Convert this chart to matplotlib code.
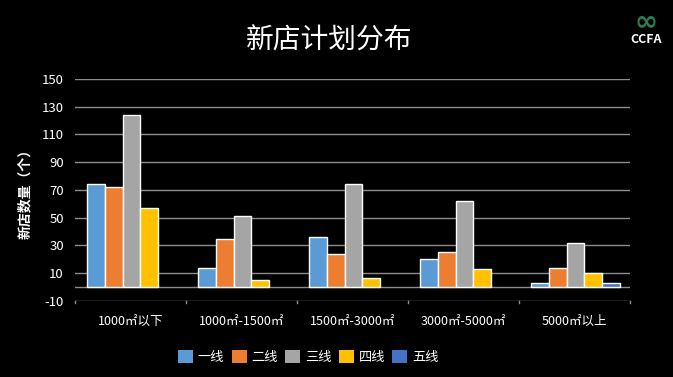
import numpy as np
import matplotlib
matplotlib.use('Agg')
from matplotlib import pyplot as plt

plt.rcParams['font.family'] = ['Noto Sans CJK SC', 'DejaVu Sans']

categories = ['1000㎡以下', '1000㎡-1500㎡', '1500㎡-3000㎡', '3000㎡-5000㎡', '5000㎡以上']
series_names = ['一线', '二线', '三线', '四线', '五线']
tier1 = [74, 14, 36, 20, 3]
tier2 = [72, 35, 24, 25, 14]
tier3 = [124, 51, 74, 62, 32]
tier4 = [57, 5, 6.5, 13, 10]
tier5 = [0, 0, 0, 0, 3]
colors = ['#5B9BD5', '#ED7D31', '#A5A5A5', '#FFC000', '#4472C4']
y_ticks = [-10, 10, 30, 50, 70, 90, 110, 130, 150]

fig = plt.figure(figsize=(6.73, 3.77), dpi=100, facecolor='black')
ax = fig.add_axes([0.1114, 0.2016, 0.8246, 0.5889], facecolor='black')

x = np.arange(len(categories))
w = 0.16
all_series = [tier1, tier2, tier3, tier4, tier5]
for i, (vals, c, name) in enumerate(zip(all_series, colors, series_names)):
    offs = x - 2 * w + i * w + 0.01
    vals = np.array(vals, dtype=float)
    keep = vals > 0
    ax.bar(offs[keep], vals[keep], width=w, color=c, edgecolor='white', linewidth=1.0, zorder=3)
    # legend handle
    ax.bar([0], [0], width=0, color=c, label=name)

ax.set_xlim(-0.5, len(categories) - 0.5)
ax.set_ylim(-10, 150)
ax.set_yticks(y_ticks)
ax.set_yticklabels([str(t) for t in y_ticks], color='white', fontsize=9.5)
for t in y_ticks:
    ax.axhline(t, color='#8C8C8C', lw=1.0, zorder=1)
ax.axhline(0, color='#8C8C8C', lw=1.0, zorder=1)

ax.set_xticks(x)
ax.set_xticklabels(categories, color='white', fontsize=9)
ax.tick_params(axis='x', length=0, pad=10)
ax.tick_params(axis='y', length=0, pad=8)
for b in np.arange(-0.5, len(categories), 1.0):
    ax.plot([b, b], [-10, -11.2], color='#8C8C8C', lw=1.0, clip_on=False)
for s in ax.spines.values():
    s.set_visible(False)

ax.set_ylabel('新店数量（个）', color='white', fontsize=10, fontweight='bold', labelpad=7)

fig.text(0.489, 0.893, '新店计划分布', color='white', fontsize=20, ha='center', va='center')
fig.text(0.96, 0.895, 'CCFA', color='white', fontsize=9, fontweight='bold', ha='center', va='center')
fig.text(0.96, 0.945, '∞', color='#2E7D4F', fontsize=20, fontweight='bold', ha='center', va='center',
         family='DejaVu Sans')

leg = ax.legend(loc='center', bbox_to_anchor=(0.458, 0.053), bbox_transform=fig.transFigure,
                ncol=5, frameon=False, fontsize=9.5, handlelength=1.15, handleheight=1.15,
                columnspacing=0.55, handletextpad=0.35)
for t in leg.get_texts():
    t.set_color('white')

fig.savefig('out.png', dpi=100, facecolor='black')
